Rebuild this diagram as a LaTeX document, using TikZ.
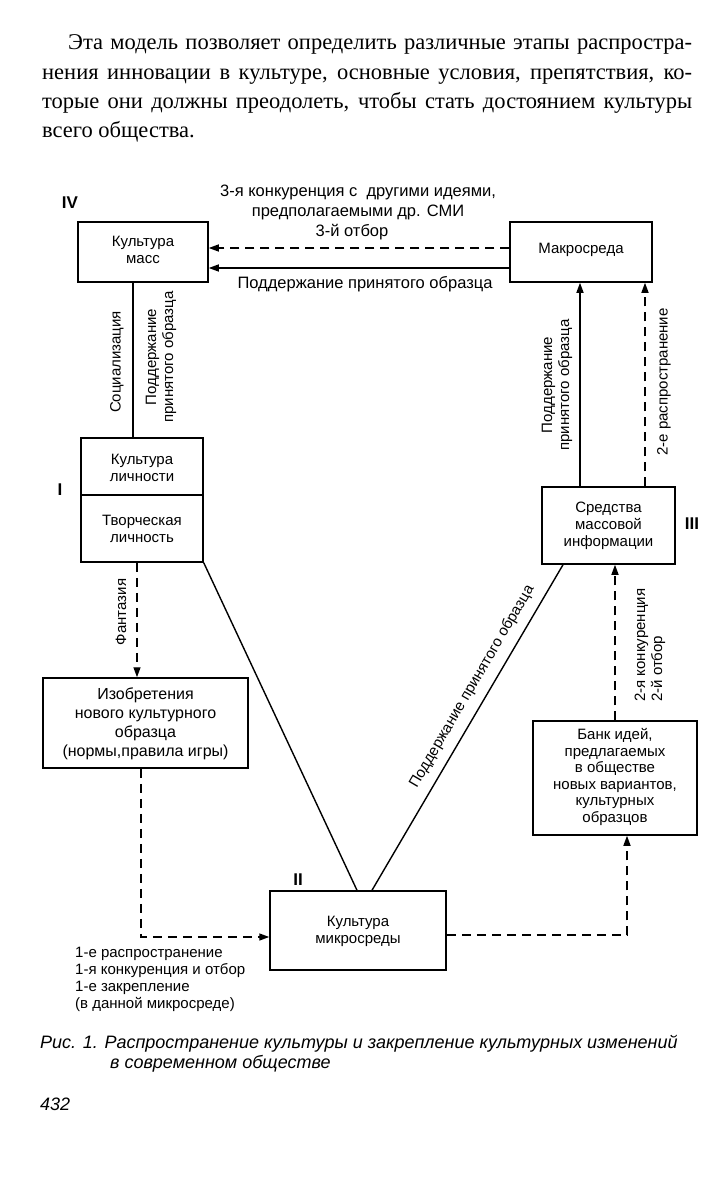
\documentclass[tikz,border=0pt]{standalone}
\usepackage{fontspec}
\setmainfont{Liberation Serif}
\newfontfamily\dsans{Liberation Sans}
\usetikzlibrary{arrows.meta}
\begin{document}
\begin{tikzpicture}[x=1pt,y=-1pt,
  box/.style={draw, line width=1.5pt, inner sep=0pt},
  lbl/.style={font=\dsans\fontsize{15}{17}\selectfont, align=center, inner sep=0pt},
  biglbl/.style={font=\dsans\fontsize{16.5}{20}\selectfont, align=center, inner sep=0pt},
  num/.style={font=\dsans\bfseries\fontsize{17}{17}\selectfont, inner sep=0pt},
  para/.style={font=\fontsize{22.5}{29}\selectfont, inner sep=0pt, anchor=base west},
  capt/.style={font=\dsans\itshape\fontsize{18}{20}\selectfont, anchor=base west, inner sep=0pt},
  sline/.style={line width=1.4pt},
  dline/.style={line width=1.4pt, dash pattern=on 9pt off 6pt},
  arr/.style={-{Triangle[length=10pt,width=7pt]}},
]
\useasboundingbox (0,0) rectangle (719,1187);

% paragraph
\node[para] (p1) at (68,49) {\makebox[624pt][s]{Эта модель позволяет определить различные этапы распростра-}};
\node[para] (p2) at (42,79) {\makebox[650pt][s]{нения инновации в культуре, основные условия, препятствия, ко-}};
\node[para] (p3) at (42,108) {\makebox[650pt][s]{торые они должны преодолеть, чтобы стать достоянием культуры}};
\node[para] (p4) at (42,137) {всего общества.};

% boxes
\node[box, minimum width=130pt, minimum height=60pt] (masses) at (143,252) {};
\node[lbl] at (143,250) {Культура\\масс};
\node[box, minimum width=142pt, minimum height=60pt] (macro) at (581,252) {};
\node[lbl] at (581,250) {Макросреда};
\node[box, minimum width=122pt, minimum height=124pt] (pers) at (142,500) {};
\draw[sline] (pers.west |- 0,495) -- (pers.east |- 0,495);
\node[lbl] at (142,468) {Культура\\личности};
\node[lbl] at (142,529) {Творческая\\личность};
\node[box, minimum width=205pt, minimum height=90pt] (inv) at (145.5,723) {};
\node[lbl, font=\dsans\fontsize{16}{19}\selectfont] at (145.5,724) {Изобретения\\нового культурного\\образца\\(нормы,правила игры)};
\node[box, minimum width=176pt, minimum height=79pt] (micro) at (358,930.5) {};
\node[lbl] at (358,931) {Культура\\микросреды};
\node[box, minimum width=133pt, minimum height=77pt] (smi) at (608.5,525.5) {};
\node[lbl] at (608.5,526) {Средства\\массовой\\информации};
\node[box, minimum width=164pt, minimum height=114pt] (bank) at (615,778) {};
\node[lbl, font=\dsans\fontsize{15}{16.6}\selectfont] at (615,777) {Банк идей,\\предлагаемых\\в обществе\\новых вариантов,\\культурных\\образцов};

% numerals
\node[num] (nIV) at (70,203) {IV};
\node[num] (nI) at (60,490) {I};
\node[num] (nII) at (298,880) {II};
\node[num] (nIII) at (692,524) {III};

% top connectors
\draw[dline,arr] (macro.west |- 0,248) -- (masses.east |- 0,248);
\draw[sline,arr] (macro.west |- 0,268) -- (masses.east |- 0,268);
\node[biglbl] at (358,202) {3-я конкуренция с\ \ другими идеями,\\предполагаемыми др. СМИ};
\node[biglbl] at (352,232) {3-й отбор};
\node[biglbl] at (365,284) {Поддержание принятого образца};

% left column
\draw[sline] (masses.south -| 133,0) -- (pers.north -| 133,0);
\node[lbl, rotate=90] at (117,362) {Социализация};
\node[lbl, rotate=90] at (161,357) {Поддержание\\принятого образца};
\draw[dline,arr] (pers.south -| 137,0) -- (inv.north -| 137,0);
\node[lbl, rotate=90] at (121,612) {Фантазия};
\draw[dline,arr] (inv.south -| 141,0) |- (micro.west |- 0,937);
\node[lbl, align=left, anchor=north west] at (75,947) {1-е распространение\\1-я конкуренция и отбор\\1-е закрепление\\(в данной микросреде)};

% diagonals
\draw[sline] (pers.south east) -- (micro.north -| 357,0);
\draw[sline] (micro.north -| 372,0) -- node[lbl, sloped, above=9pt, pos=0.6] {Поддержание принятого образца} (smi.south -| 563,0);

% right column
\draw[sline,arr] (smi.north -| 580,0) -- (macro.south -| 580,0);
\node[lbl, rotate=90] at (557,385) {Поддержание\\принятого образца};
\draw[dline,arr] (smi.north -| 645,0) -- (macro.south -| 645,0);
\node[lbl, rotate=90] at (664,382) {2-е распространение};
\draw[dline,arr] (bank.north -| 615,0) -- (smi.south -| 615,0);
\node[lbl, rotate=90, align=left, anchor=west] at (650,702) {2-я конкуренция\\2-й отбор};
\draw[dline,arr] (micro.east |- 0,935) -| (bank.south -| 627,0);

% caption
\node[capt] (cap1) at (40,1048) {Рис. 1. Распространение культуры и закрепление культурных изменений};
\node[capt] (cap2) at (110,1068) {в современном обществе};
\node[capt] (pg) at (40,1110) {432};
\end{tikzpicture}
\end{document}
